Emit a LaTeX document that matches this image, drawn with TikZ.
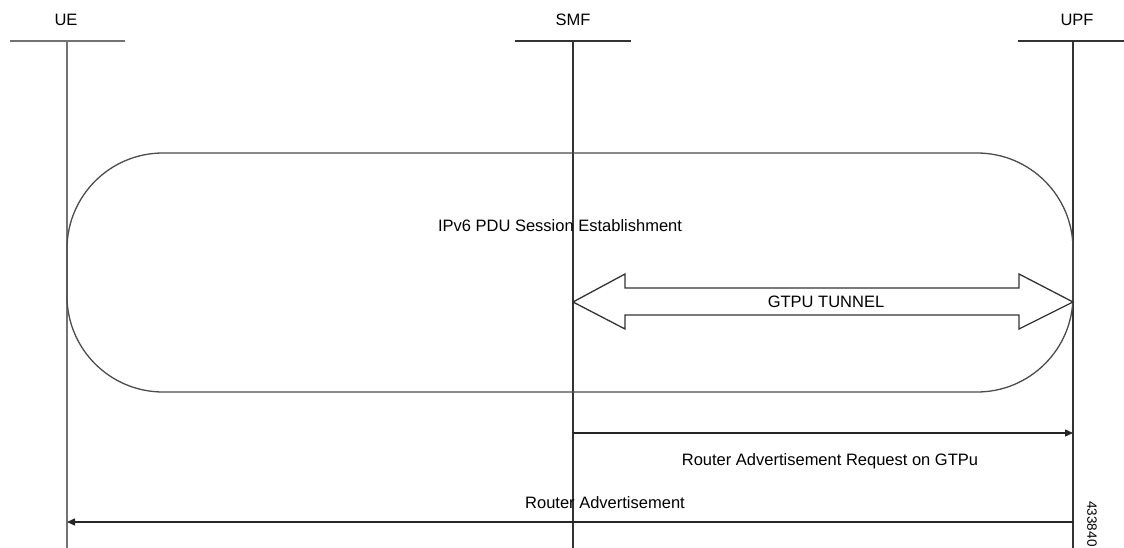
\documentclass[tikz,border=0pt]{standalone}
\usepackage{fontspec}
\setmainfont{Liberation Sans}
\usetikzlibrary{
	positioning,
	arrows.meta
}

\tikzset{
	entity/.style={font=\fontsize{16.5}{20}\selectfont, inner sep=0pt},
	label/.style={font=\fontsize{16.5}{20}\selectfont, inner sep=0pt},
	lifeline/.style={line width=1.3pt, draw=black!80},
	msg/.style={line width=1.3pt, draw=black!85, -{Triangle[length=8pt,width=7pt]}}
}

\begin{document}
\begin{tikzpicture}[x=1pt,y=-1pt]
	\useasboundingbox (0,0) rectangle (1124,548);

	% entities
	\node [entity] (ue)  at (66,20)   {UE};
	\node [entity] (smf) at (573,20)  {SMF};
	\node [entity] (upf) at (1077,20) {UPF};

	\coordinate (ueTop)  at (67,41);
	\coordinate (smfTop) at (573,41);
	\coordinate (upfTop) at (1073,41);
	\coordinate (ueBot)  at (67,548);
	\coordinate (smfBot) at (573,548);
	\coordinate (upfBot) at (1073,548);

	% heads and lifelines
	\draw[lifeline, draw=black!55] (10,41) -- (125,41);
	\draw[lifeline] (515,41) -- (631,41);
	\draw[lifeline] (1018,41) -- (1124,41);
	\draw[lifeline, draw=black!55] (ueTop) -- (ueBot);
	\draw[lifeline] (smfTop) -- (smfBot);
	\draw[lifeline] (upfTop) -- (upfBot);

	% session box
	\draw[line width=1.3pt, draw=black!70, rounded corners=96pt]
		(67,153) rectangle (1073,392);
	\node [label] (session) at (560,226) {IPv6 PDU Session Establishment};

	% tunnel
	\draw[line width=1.3pt, draw=black!80, fill=white]
		(smfTop |- 0,302) -- (625,274) -- (625,288) -- (1019,288) -- (1019,274)
		-- (upfTop |- 0,302) -- (1019,329) -- (1019,315) -- (625,315) -- (625,329) -- cycle;
	\node [label] (tunnel) at (826,302) {GTPU TUNNEL};

	% messages
	\coordinate (raqFrom) at (smfTop |- 0,433);
	\coordinate (raqTo)   at (upfTop |- 0,433);
	\coordinate (raFrom)  at (upfTop |- 0,522);
	\coordinate (raTo)    at (ueTop |- 0,522);
	\draw[msg] (raqFrom) -- (raqTo);
	\node [label] (raq) at (830,461) {Router Advertisement Request on GTPu};
	\draw[msg] (raFrom) -- (raTo);
	\node [label] (ra) at (605,503) {Router Advertisement};

	\node [font=\fontsize{13.5}{15}\selectfont, inner sep=0pt, rotate=-90] (fig) at (1092,524) {433840};
\end{tikzpicture}
\end{document}
